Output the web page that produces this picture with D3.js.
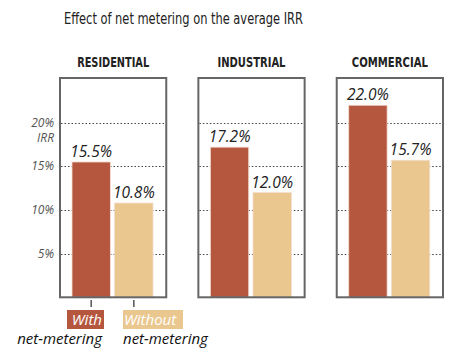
<!doctype html>
<html lang="en">
<head>
<meta charset="utf-8">
<script src="https://d3js.org/d3.v7.min.js"></script>
<style>
  body { margin: 0; background: #fff; }
  .num { font-family: "Open Sans", sans-serif; font-style: italic; }
  .cond { font-family: "DejaVu Sans", sans-serif; font-stretch: condensed; }
</style>
</head>
<body>
<div id="chart"></div>
<script>
// data
var sectors = ['RESIDENTIAL', 'INDUSTRIAL', 'COMMERCIAL'];
var seriesNames = ['With', 'Without'];
var withNet = [15.5, 17.2, 22.0];
var withoutNet = [10.8, 12.0, 15.7];
var yTicks = [5, 10, 15, 20];

var colors = d3.scaleOrdinal().domain(seriesNames).range(['#b5573e', '#eac78e']);
var headerWidth = { RESIDENTIAL: 72, INDUSTRIAL: 68, COMMERCIAL: 76 };

var svg = d3.select('#chart').append('svg')
    .attr('width', 464)
    .attr('height', 361);

// scales
var x = d3.scaleBand().domain(sectors).range([60, 443]).paddingInner(0.232);
var xi = d3.scaleBand().domain(seriesNames).range([12, 93]).paddingInner(0.1);
var y = d3.scaleLinear().domain([0, 20]).range([297.3, 122.7]);
var boxTop = 78;

// title
svg.append('text')
    .attr('class', 'cond')
    .attr('x', 64).attr('y', 24)
    .style('font-size', '16px')
    .attr('textLength', 239)
    .attr('lengthAdjust', 'spacingAndGlyphs')
    .attr('fill', '#222')
    .text('Effect of net metering on the average IRR');

var panels = svg.selectAll('g.panel')
    .data(sectors)
    .enter().append('g')
    .attr('class', 'panel')
    .attr('transform', function(d) { return 'translate(' + x(d) + ',0)'; });

// panel headers
panels.append('text')
    .attr('class', 'cond')
    .attr('x', x.bandwidth() / 2 - headerWidth.RESIDENTIAL / 2).attr('y', 67)
    .attr('x', function(d) { return x.bandwidth() / 2 - headerWidth[d] / 2; })
    .attr('textLength', function(d) { return headerWidth[d]; })
    .attr('lengthAdjust', 'spacingAndGlyphs')
    .style('font-size', '14px')
    .style('font-weight', 'bold')
    .attr('fill', '#222')
    .text(function(d) { return d; });

// gridlines
panels.selectAll('line.grid')
    .data(yTicks)
    .enter().append('line')
    .attr('x1', 1).attr('x2', x.bandwidth() - 1)
    .attr('y1', function(d) { return Math.round(y(d)) + 0.5; })
    .attr('y2', function(d) { return Math.round(y(d)) + 0.5; })
    .attr('stroke', '#444')
    .attr('stroke-width', 1.2)
    .attr('stroke-dasharray', '1.5,2');

// bars
panels.each(function(sector, i) {
    var vals = [withNet[i], withoutNet[i]];
    var g = d3.select(this);
    g.selectAll('rect.bar')
        .data(vals)
        .enter().append('rect')
        .attr('x', function(d, j) { return xi(seriesNames[j]); })
        .attr('width', xi.bandwidth())
        .attr('y', function(d) { return y(d); })
        .attr('height', function(d) { return y(0) - y(d); })
        .attr('fill', function(d, j) { return colors(seriesNames[j]); })
        .attr('stroke', '#f3ddd0')
        .attr('stroke-width', 0.8);
    g.selectAll('text.val')
        .data(vals)
        .enter().append('text')
        .attr('class', 'num')
        .attr('x', function(d, j) { return xi(seriesNames[j]) + xi.bandwidth() / 2; })
        .attr('y', function(d) { return y(d) - 5; })
        .attr('text-anchor', 'middle')
        .style('font-size', '15.5px')
        .attr('fill', '#222')
        .text(function(d) { return d.toFixed(1) + '%'; });
});

// panel boxes
panels.append('rect')
    .attr('x', 0).attr('y', boxTop)
    .attr('width', x.bandwidth())
    .attr('height', y(0) - boxTop)
    .attr('fill', 'none')
    .attr('stroke', '#666')
    .attr('stroke-width', 2);

// y axis labels
svg.selectAll('text.ytick')
    .data(yTicks)
    .enter().append('text')
    .attr('class', 'num')
    .attr('x', 54)
    .attr('y', function(d) { return y(d) + 4; })
    .attr('text-anchor', 'end')
    .style('font-size', '12px')
    .attr('fill', '#555')
    .text(function(d) { return d + '%'; });
svg.append('text')
    .attr('class', 'num')
    .attr('x', 54).attr('y', y(20) + 19.5)
    .attr('text-anchor', 'end')
    .style('font-size', '12px')
    .attr('fill', '#555')
    .text('IRR');

// legend
var x0 = x(sectors[0]);
var legend = svg.append('g');
legend.selectAll('line')
    .data(seriesNames)
    .enter().append('line')
    .attr('x1', function(d) { return x0 + xi(d) + xi.bandwidth() / 2; })
    .attr('x2', function(d) { return x0 + xi(d) + xi.bandwidth() / 2; })
    .attr('y1', 300).attr('y2', 307)
    .attr('stroke', '#555').attr('stroke-width', 1.5);

legend.append('rect').attr('x', 67).attr('y', 310).attr('width', 37).attr('height', 19).attr('fill', colors('With'));
legend.append('rect').attr('x', 123).attr('y', 310).attr('width', 60).attr('height', 19).attr('fill', colors('Without'));
legend.append('text').attr('class', 'num').attr('x', 102).attr('y', 325)
    .attr('text-anchor', 'end').style('font-size', '15px').attr('fill', '#fff').text('With');
legend.append('text').attr('class', 'num').attr('x', 124).attr('y', 325)
    .style('font-size', '15px').attr('fill', '#fff').text('Without');
legend.append('text').attr('class', 'num').attr('x', 102).attr('y', 344)
    .attr('text-anchor', 'end').style('font-size', '15px').attr('fill', '#111').text('net-metering');
legend.append('text').attr('class', 'num').attr('x', 123).attr('y', 344)
    .style('font-size', '15px').attr('fill', '#111').text('net-metering');
</script>
</body>
</html>
